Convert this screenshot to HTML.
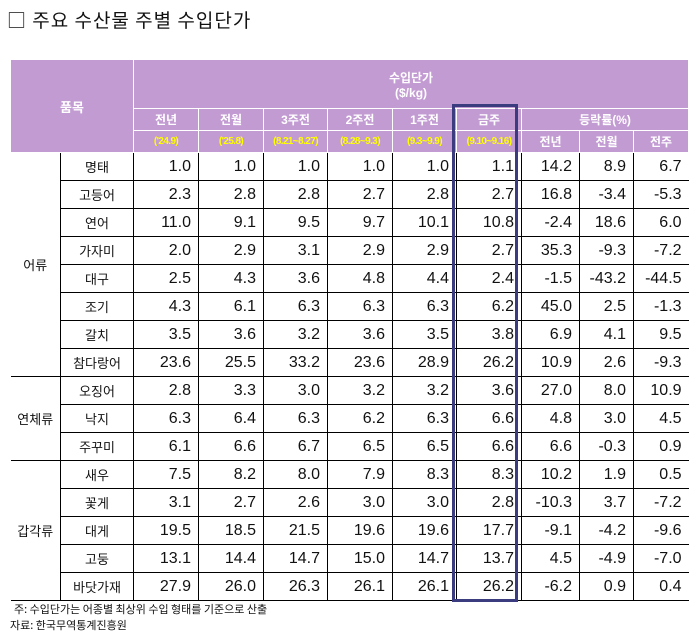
<!DOCTYPE html>
<html><head><meta charset="utf-8"><style>
body{margin:0;width:697px;height:642px;background:#fff;position:relative;font-family:"Liberation Sans","Noto Sans CJK KR",sans-serif;overflow:hidden}
.title{position:absolute;left:7px;top:6px;font-size:19px;color:#111;letter-spacing:1px;font-family:"Noto Sans CJK KR","Liberation Sans",sans-serif}
table{position:absolute;left:10px;top:59px;border-collapse:collapse;table-layout:fixed;width:678px}
td{padding:0;font-size:15px;color:#111}
.h{background:#c39bd3;color:#fff;text-align:center;font-size:12px;font-weight:bold;border:1px solid #fff}
.y{color:#ffff00;font-size:10px;letter-spacing:-0.6px;font-weight:bold}
.n{text-align:right;padding-right:7px;border-left:1px solid #000;border-bottom:1px solid #000;height:27px;font-size:16px}
.nm{text-align:center;font-size:13px;border-left:1px solid #000;border-bottom:1px solid #000;font-family:"Noto Sans CJK KR",sans-serif}
.cat{text-align:center;font-size:13px;border-bottom:1px solid #000;font-family:"Noto Sans CJK KR",sans-serif}
.box{position:absolute;left:452px;top:104px;width:60px;height:492px;border:3px solid #3b3b80}
.foot{position:absolute;left:10px;font-size:11px;color:#111;font-family:"Noto Sans CJK KR",sans-serif}
</style></head><body>
<div class="title">□ 주요 수산물 주별 수입단가</div>
<table>
<colgroup><col style="width:50px"><col style="width:73px"><col style="width:65px"><col style="width:65px"><col style="width:64px"><col style="width:65px"><col style="width:64px"><col style="width:65px"><col style="width:58px"><col style="width:54px"><col style="width:55px"></colgroup>
<tr style="height:49px"><td class="h" colspan="2" rowspan="3" style="font-size:13px">품목</td><td class="h" colspan="9">수입단가<br>($/kg)</td></tr>
<tr style="height:22px"><td class="h">전년</td><td class="h">전월</td><td class="h">3주전</td><td class="h">2주전</td><td class="h">1주전</td><td class="h">금주</td><td class="h" colspan="3">등락률(%)</td></tr>
<tr style="height:22px"><td class="h y">('24.9)</td><td class="h y">('25.8)</td><td class="h y">(8.21~8.27)</td><td class="h y">(8.28~9.3)</td><td class="h y">(9.3~9.9)</td><td class="h y">(9.10~9.16)</td><td class="h">전년</td><td class="h">전월</td><td class="h">전주</td></tr>
<tr><td class="cat" rowspan="8">어류</td><td class="nm">명태</td><td class="n">1.0</td><td class="n">1.0</td><td class="n">1.0</td><td class="n">1.0</td><td class="n">1.0</td><td class="n">1.1</td><td class="n">14.2</td><td class="n">8.9</td><td class="n">6.7</td></tr>
<tr><td class="nm">고등어</td><td class="n">2.3</td><td class="n">2.8</td><td class="n">2.8</td><td class="n">2.7</td><td class="n">2.8</td><td class="n">2.7</td><td class="n">16.8</td><td class="n">-3.4</td><td class="n">-5.3</td></tr>
<tr><td class="nm">연어</td><td class="n">11.0</td><td class="n">9.1</td><td class="n">9.5</td><td class="n">9.7</td><td class="n">10.1</td><td class="n">10.8</td><td class="n">-2.4</td><td class="n">18.6</td><td class="n">6.0</td></tr>
<tr><td class="nm">가자미</td><td class="n">2.0</td><td class="n">2.9</td><td class="n">3.1</td><td class="n">2.9</td><td class="n">2.9</td><td class="n">2.7</td><td class="n">35.3</td><td class="n">-9.3</td><td class="n">-7.2</td></tr>
<tr><td class="nm">대구</td><td class="n">2.5</td><td class="n">4.3</td><td class="n">3.6</td><td class="n">4.8</td><td class="n">4.4</td><td class="n">2.4</td><td class="n">-1.5</td><td class="n">-43.2</td><td class="n">-44.5</td></tr>
<tr><td class="nm">조기</td><td class="n">4.3</td><td class="n">6.1</td><td class="n">6.3</td><td class="n">6.3</td><td class="n">6.3</td><td class="n">6.2</td><td class="n">45.0</td><td class="n">2.5</td><td class="n">-1.3</td></tr>
<tr><td class="nm">갈치</td><td class="n">3.5</td><td class="n">3.6</td><td class="n">3.2</td><td class="n">3.6</td><td class="n">3.5</td><td class="n">3.8</td><td class="n">6.9</td><td class="n">4.1</td><td class="n">9.5</td></tr>
<tr><td class="nm">참다랑어</td><td class="n">23.6</td><td class="n">25.5</td><td class="n">33.2</td><td class="n">23.6</td><td class="n">28.9</td><td class="n">26.2</td><td class="n">10.9</td><td class="n">2.6</td><td class="n">-9.3</td></tr>
<tr><td class="cat" rowspan="3">연체류</td><td class="nm">오징어</td><td class="n">2.8</td><td class="n">3.3</td><td class="n">3.0</td><td class="n">3.2</td><td class="n">3.2</td><td class="n">3.6</td><td class="n">27.0</td><td class="n">8.0</td><td class="n">10.9</td></tr>
<tr><td class="nm">낙지</td><td class="n">6.3</td><td class="n">6.4</td><td class="n">6.3</td><td class="n">6.2</td><td class="n">6.3</td><td class="n">6.6</td><td class="n">4.8</td><td class="n">3.0</td><td class="n">4.5</td></tr>
<tr><td class="nm">주꾸미</td><td class="n">6.1</td><td class="n">6.6</td><td class="n">6.7</td><td class="n">6.5</td><td class="n">6.5</td><td class="n">6.6</td><td class="n">6.6</td><td class="n">-0.3</td><td class="n">0.9</td></tr>
<tr><td class="cat" rowspan="5">갑각류</td><td class="nm">새우</td><td class="n">7.5</td><td class="n">8.2</td><td class="n">8.0</td><td class="n">7.9</td><td class="n">8.3</td><td class="n">8.3</td><td class="n">10.2</td><td class="n">1.9</td><td class="n">0.5</td></tr>
<tr><td class="nm">꽃게</td><td class="n">3.1</td><td class="n">2.7</td><td class="n">2.6</td><td class="n">3.0</td><td class="n">3.0</td><td class="n">2.8</td><td class="n">-10.3</td><td class="n">3.7</td><td class="n">-7.2</td></tr>
<tr><td class="nm">대게</td><td class="n">19.5</td><td class="n">18.5</td><td class="n">21.5</td><td class="n">19.6</td><td class="n">19.6</td><td class="n">17.7</td><td class="n">-9.1</td><td class="n">-4.2</td><td class="n">-9.6</td></tr>
<tr><td class="nm">고둥</td><td class="n">13.1</td><td class="n">14.4</td><td class="n">14.7</td><td class="n">15.0</td><td class="n">14.7</td><td class="n">13.7</td><td class="n">4.5</td><td class="n">-4.9</td><td class="n">-7.0</td></tr>
<tr><td class="nm">바닷가재</td><td class="n">27.9</td><td class="n">26.0</td><td class="n">26.3</td><td class="n">26.1</td><td class="n">26.1</td><td class="n">26.2</td><td class="n">-6.2</td><td class="n">0.9</td><td class="n">0.4</td></tr>
</table>
<div class="box"></div>
<div class="foot" style="top:601px;left:14px">주: 수입단가는 어종별 최상위 수입 형태를 기준으로 산출</div>
<div class="foot" style="top:617px">자료: 한국무역통계진흥원</div>
</body></html>
